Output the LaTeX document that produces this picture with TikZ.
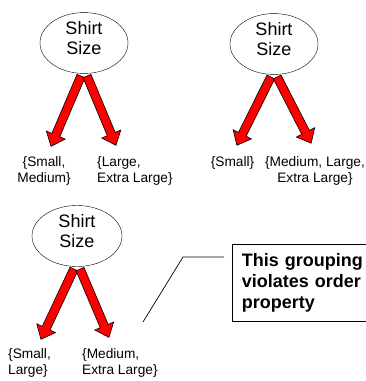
\documentclass[tikz,border=0pt]{standalone}
\usepackage{fontspec}
\setmainfont{Liberation Sans}
\usetikzlibrary{shapes.geometric,shapes.arrows,calc}

% block arrow from a start point to a tip point
\newcommand{\sizearrow}[2]{%
  \path let \p1=($(#2)-(#1)$), \n1={atan2(\y1,\x1)}, \n2={veclen(\x1,\y1)} in
    node[splitarrow, minimum height=\n2, rotate=\n1] at ($(#1)!0.5!(#2)$) {};}

\begin{document}
\begin{tikzpicture}[
    x=1pt, y=-1pt,
    attribute/.style={draw, ellipse, minimum width=88pt, minimum height=60pt, inner sep=0pt, align=center, font=\fontsize{18}{20}\selectfont},
    splitarrow/.style={single arrow, draw=black, fill=red, line width=0.6pt, inner sep=4pt, single arrow head extend=6pt, single arrow tip angle=80},
    subset/.style={inner sep=0pt, font=\fontsize{13.7}{16}\selectfont},
    note/.style={draw, line width=0.8pt, anchor=north west, align=left, text width=160pt, minimum height=77pt, inner xsep=9.5pt, font=\bfseries\fontsize{18}{21}\selectfont}
]
    \clip (0,0) rectangle (366,381);

    % First split
    \node[attribute] (size1) at (84,43) {Shirt\\Size\rule[-10pt]{0pt}{10pt}};
    \coordinate (top1a) at ([xshift=-2pt]size1.south);
    \coordinate (top1b) at ([xshift=2pt]size1.south);
    \coordinate (tip1a) at (52,144);
    \coordinate (tip1b) at (115,143);
    \sizearrow{top1a}{tip1a}
    \sizearrow{top1b}{tip1b}
    \node[subset, align=center] (set1a) at (44,170.5) {\{Small,\\Medium\}};
    \node[subset, align=left, anchor=west] (set1b) at (97,170.5) {\{Large,\\Extra Large\}};

    % Second split
    \node[attribute] (size2) at (274,44) {Shirt\\Size\rule[-10pt]{0pt}{10pt}};
    \coordinate (top2a) at ([xshift=-2pt]size2.south);
    \coordinate (top2b) at ([xshift=2pt]size2.south);
    \coordinate (tip2a) at (238,143);
    \coordinate (tip2b) at (310,141);
    \sizearrow{top2a}{tip2a}
    \sizearrow{top2b}{tip2b}
    \node[subset] (set2a) at (232.5,163) {\{Small\}};
    \node[subset, align=center] (set2b) at (315,170.5) {\{Medium, Large,\\Extra Large\}};

    % Third split
    \node[attribute, minimum width=90pt, minimum height=61pt] (size3) at (77,236) {Shirt\\Size\rule[-10pt]{0pt}{10pt}};
    \coordinate (top3a) at ([xshift=-2pt]size3.south);
    \coordinate (top3b) at ([xshift=2pt]size3.south);
    \coordinate (tip3a) at (42,337);
    \coordinate (tip3b) at (108,335);
    \sizearrow{top3a}{tip3a}
    \sizearrow{top3b}{tip3b}
    \node[subset, align=left, anchor=west] (set3a) at (8,363) {\{Small,\\Large\}};
    \node[subset, align=left, anchor=west] (set3b) at (82,363) {\{Medium,\\Extra Large\}};

    % Remark
    \node[note] (remark) at (232,244) {This grouping\\violates order\\property};
    \coordinate (pointer) at (143,322);
    \coordinate (bend) at (183,257);
    \draw[line width=0.7pt, shorten >=8pt] (pointer) -- (bend) -- (bend -| remark.west);

\end{tikzpicture}
\end{document}
